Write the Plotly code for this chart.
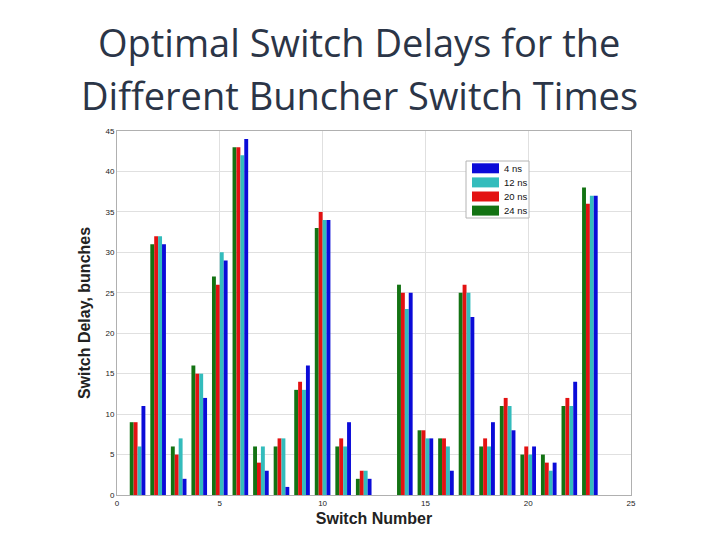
import plotly.graph_objects as go

# 스위치 번호 (13번은 데이터 없음)
switch_no = [1, 2, 3, 4, 5, 6, 7, 8, 9, 10, 11, 12, 14, 15, 16, 17, 18, 19, 20, 21, 22, 23]

delay_24ns = [9, 31, 6, 16, 27, 43, 6, 6, 13, 33, 6, 2, 26, 8, 7, 25, 6, 11, 5, 5, 11, 38]
delay_20ns = [9, 32, 5, 15, 26, 43, 4, 7, 14, 35, 7, 3, 25, 8, 7, 26, 7, 12, 6, 4, 12, 36]
delay_12ns = [6, 32, 7, 15, 30, 42, 6, 7, 13, 34, 6, 3, 23, 7, 6, 25, 6, 11, 5, 3, 11, 37]
delay_4ns = [11, 31, 2, 12, 29, 44, 3, 1, 16, 34, 9, 2, 25, 7, 3, 22, 9, 8, 6, 4, 14, 37]

title_lines = ['Optimal Switch Delays for the', 'Different Buncher Switch Times']

series = [
    ('24 ns', delay_24ns, '#137313'),
    ('20 ns', delay_20ns, '#e31212'),
    ('12 ns', delay_12ns, '#33bcbc'),
    ('4 ns', delay_4ns, '#0b0bd8'),
]

# 플롯 영역 (픽셀)
L, R, T, B = 109, 623, 123, 487


def px(x):
    return (x - L) / (R - L)


def py(y):
    return (B - y) / (B - T)


fig = go.Figure()
for name, vals, color in series:
    fig.add_trace(go.Bar(x=switch_no, y=vals, name=name, showlegend=False,
                         marker=dict(color=color, line=dict(width=0))))

# 범례 (넓은 색상 박스)
shapes = [dict(type='rect', xref='paper', yref='paper',
               x0=px(458), x1=px(521), y0=py(153), y1=py(210),
               line=dict(color='#b4b4b4', width=1), fillcolor='white', layer='above')]
annotations = []
for i, (name, vals, color) in enumerate(reversed(series)):
    yc = 160.3 + i * 14.1
    shapes.append(dict(type='rect', xref='paper', yref='paper',
                       x0=px(464), x1=px(491), y0=py(yc + 5), y1=py(yc - 5),
                       line=dict(width=0), fillcolor=color, layer='above'))
    annotations.append(dict(text=name, xref='paper', yref='paper', x=px(494), y=py(yc),
                            xanchor='left', yanchor='middle', showarrow=False,
                            font=dict(family='Arial', size=9.5, color='#111')))

# 제목 (두 줄)
for line, yc in zip(title_lines, [34, 87]):
    annotations.append(dict(
        text=line, xref='paper', yref='paper', x=px(351), y=py(yc),
        xanchor='center', yanchor='middle', showarrow=False,
        font=dict(family='Open Sans', size=38, color='#2b3547'),
    ))

axis_style = dict(
    showgrid=True, gridcolor='#e0e0e0', gridwidth=1,
    showline=True, linecolor='#b0b0b0', linewidth=1, mirror=True,
    zeroline=False, ticks='', tickfont=dict(family='Arial', size=8, color='#222'),
)

fig.update_layout(
    width=720, height=540,
    paper_bgcolor='white', plot_bgcolor='white',
    margin=dict(l=L, r=720 - R, t=T, b=540 - B),
    barmode='group', bargap=0.24, bargroupgap=0,
    shapes=shapes, annotations=annotations,
)

fig.update_xaxes(axis_style, range=[0, 25], dtick=5,
                 title=dict(text='<b>Switch Number</b>', font=dict(family='Arial', size=16, color='#222'), standoff=6))
fig.update_yaxes(axis_style, range=[0, 45], dtick=5,
                 title=dict(text='<b>Switch Delay, bunches</b>', font=dict(family='Arial', size=16, color='#222'), standoff=10))

fig.write_html("out.html")
